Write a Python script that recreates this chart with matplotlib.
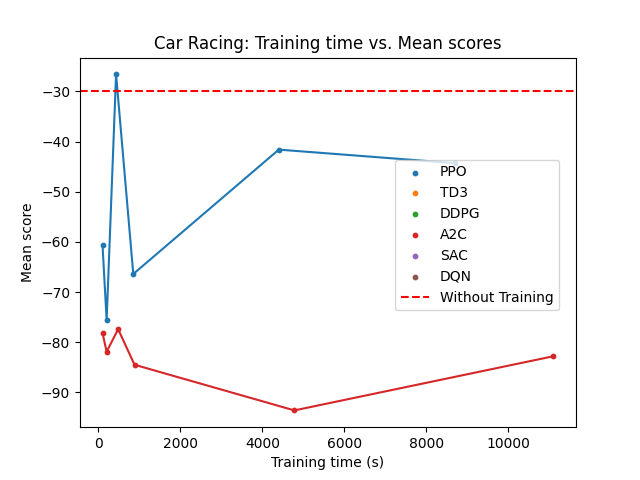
import matplotlib
matplotlib.use('Agg')
import matplotlib.pyplot as plt

algos = ['PPO', 'TD3', 'DDPG', 'A2C', 'SAC', 'DQN']
colors = ['tab:blue', 'tab:orange', 'tab:green', 'tab:red', 'tab:purple', 'tab:brown']
times = {
    'PPO': [100, 200, 430, 850, 4400, 8700],
    'A2C': [100, 200, 480, 880, 4780, 11100],
}
scores = {
    'PPO': [-60.7, -75.6, -26.6, -66.4, -41.6, -44.3],
    'A2C': [-78.2, -81.9, -77.4, -84.5, -93.6, -82.8],
}
baseline = -30

fig, ax = plt.subplots(figsize=(6.4, 4.8), dpi=100)
for name, c in zip(algos, colors):
    x = times.get(name, [])
    y = scores.get(name, [])
    ax.scatter(x, y, s=10, color=c, label=name)
    if x:
        ax.plot(x, y, color=c)
ax.axhline(baseline, color='red', linestyle='--', label='Without Training')
ax.set_xlabel('Training time (s)')
ax.set_ylabel('Mean score')
ax.set_title('Car Racing: Training time vs. Mean scores')
ax.legend(loc='center right', bbox_to_anchor=(0.98, 0.52))
fig.savefig('out.png')
